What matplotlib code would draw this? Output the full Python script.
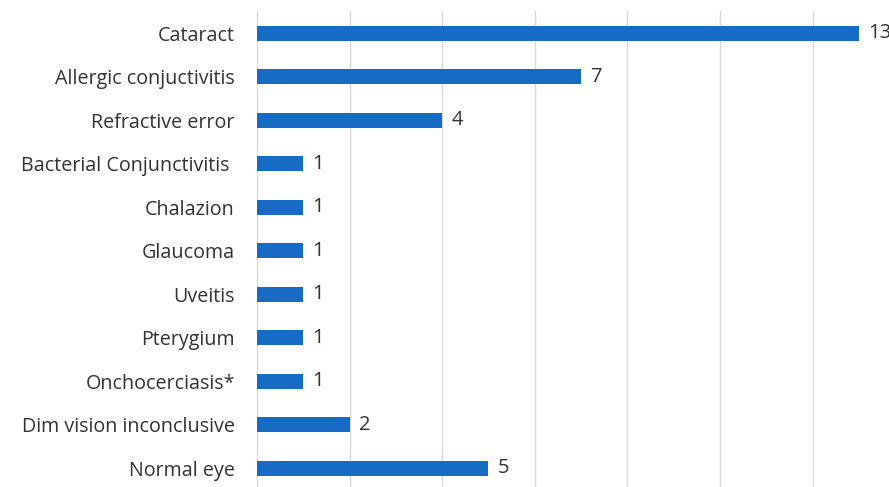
import matplotlib
matplotlib.use("Agg")
import matplotlib.pyplot as plt

categories = ["Cataract", "Allergic conjuctivitis", "Refractive error",
              "Bacterial Conjunctivitis ", "Chalazion", "Glaucoma", "Uveitis",
              "Pterygium", "Onchocerciasis*", "Dim vision inconclusive", "Normal eye"]
counts = [13, 7, 4, 1, 1, 1, 1, 1, 1, 2, 5]

plt.rcParams['font.family'] = ['Open Sans', 'DejaVu Sans']

fig = plt.figure(figsize=(8.89, 4.87), dpi=100)
ax = fig.add_axes([0.2891, -0.006, 0.729, 0.9826])

y = list(range(len(categories)))
ax.barh(y, counts, height=0.35, color='#176bc4', zorder=3)
for yi, v in zip(y, counts):
    ax.text(v + 0.2, yi, str(v), va='center', ha='left', fontsize=14.5, color='#333333')

ax.set_yticks(y)
ax.set_yticklabels(categories, fontsize=14.2, color='#333333')
ax.set_ylim(len(categories) - 0.5, -0.5)
ax.set_xlim(0, 14)
ax.set_xticks(range(0, 15, 2))
ax.xaxis.set_ticklabels([])
ax.grid(axis='x', color='#d9d9d9', linewidth=1, zorder=0)
ax.tick_params(length=0, pad=16)
for s in ax.spines.values():
    s.set_visible(False)

fig.savefig("out.png", dpi=100)
